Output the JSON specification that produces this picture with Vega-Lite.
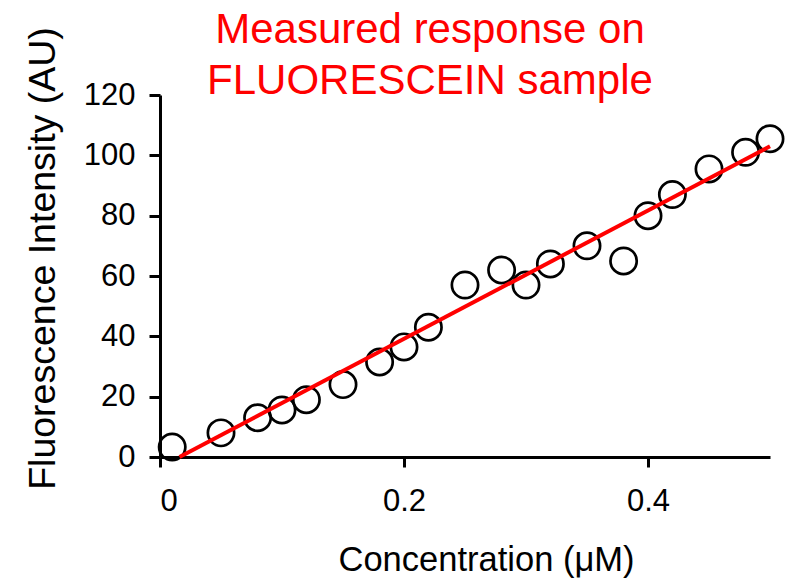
{
  "$schema": "https://vega.github.io/schema/vega-lite/v6.json",
  "autosize": "none",
  "width": 610,
  "height": 362,
  "padding": {"left": 160, "top": 95, "right": 27, "bottom": 121},
  "background": "white",
  "config": {
    "view": {"stroke": null},
    "font": "Liberation Sans"
  },
  "title": {
    "text": ["Measured response on", "FLUORESCEIN sample"],
    "color": "#ff0000",
    "fontSize": 42,
    "fontWeight": "normal",
    "font": "Liberation Sans",
    "lineHeight": 51,
    "anchor": "middle",
    "dx": -35,
    "offset": -30,
    "dy": 46
  },
  "datasets": {
    "points": [
      {"conc": 0.01, "intensity": 3.3},
      {"conc": 0.05, "intensity": 8},
      {"conc": 0.08, "intensity": 13},
      {"conc": 0.10, "intensity": 15.6},
      {"conc": 0.12, "intensity": 19},
      {"conc": 0.15, "intensity": 24},
      {"conc": 0.18, "intensity": 31.5},
      {"conc": 0.20, "intensity": 36.5},
      {"conc": 0.22, "intensity": 43},
      {"conc": 0.25, "intensity": 57},
      {"conc": 0.28, "intensity": 62},
      {"conc": 0.30, "intensity": 57},
      {"conc": 0.32, "intensity": 64},
      {"conc": 0.35, "intensity": 70},
      {"conc": 0.38, "intensity": 65},
      {"conc": 0.40, "intensity": 80},
      {"conc": 0.42, "intensity": 87},
      {"conc": 0.45, "intensity": 95.5},
      {"conc": 0.48, "intensity": 101},
      {"conc": 0.50, "intensity": 105.5}
    ],
    "fit": [
      {"conc": 0.016, "intensity": 0},
      {"conc": 0.5, "intensity": 103}
    ]
  },
  "layer": [
    {
      "data": {"name": "points"},
      "mark": {"type": "point", "shape": "circle", "filled": false, "size": 690, "stroke": "black", "strokeWidth": 2.7, "opacity": 1, "clip": false},
      "encoding": {
        "x": {
          "field": "conc", "type": "quantitative",
          "scale": {"domain": [0, 0.5], "nice": false},
          "axis": {
            "title": "Concentration (\u03bcM)",
            "values": [0, 0.2, 0.4],
            "format": "~g",
            "grid": false,
            "domainColor": "black", "domainWidth": 3,
            "tickColor": "black", "tickWidth": 3, "tickSize": 10,
            "labelFontSize": 31, "labelColor": "black", "labelPadding": 19,
            "labelFont": "Liberation Sans",
            "titleFontSize": 34.5, "titleColor": "black", "titleFontWeight": "normal",
            "titleFont": "Liberation Sans",
            "titlePadding": 27,
            "titleX": 326
          }
        },
        "y": {
          "field": "intensity", "type": "quantitative",
          "scale": {"domain": [0, 120], "nice": false},
          "axis": {
            "title": "Fluorescence Intensity (AU)",
            "values": [0, 20, 40, 60, 80, 100, 120],
            "grid": false,
            "domainColor": "black", "domainWidth": 3,
            "tickColor": "black", "tickWidth": 3, "tickSize": 11,
            "labelFontSize": 31, "labelColor": "black", "labelPadding": 14,
            "labelFont": "Liberation Sans",
            "titleFontSize": 37.5, "titleColor": "black", "titleFontWeight": "normal",
            "titleFont": "Liberation Sans",
            "titlePadding": 21,
            "titleY": 163
          }
        }
      }
    },
    {
      "data": {"name": "fit"},
      "mark": {"type": "line", "color": "#ff0000", "strokeWidth": 4},
      "encoding": {
        "x": {"field": "conc", "type": "quantitative"},
        "y": {"field": "intensity", "type": "quantitative"}
      }
    }
  ]
}
